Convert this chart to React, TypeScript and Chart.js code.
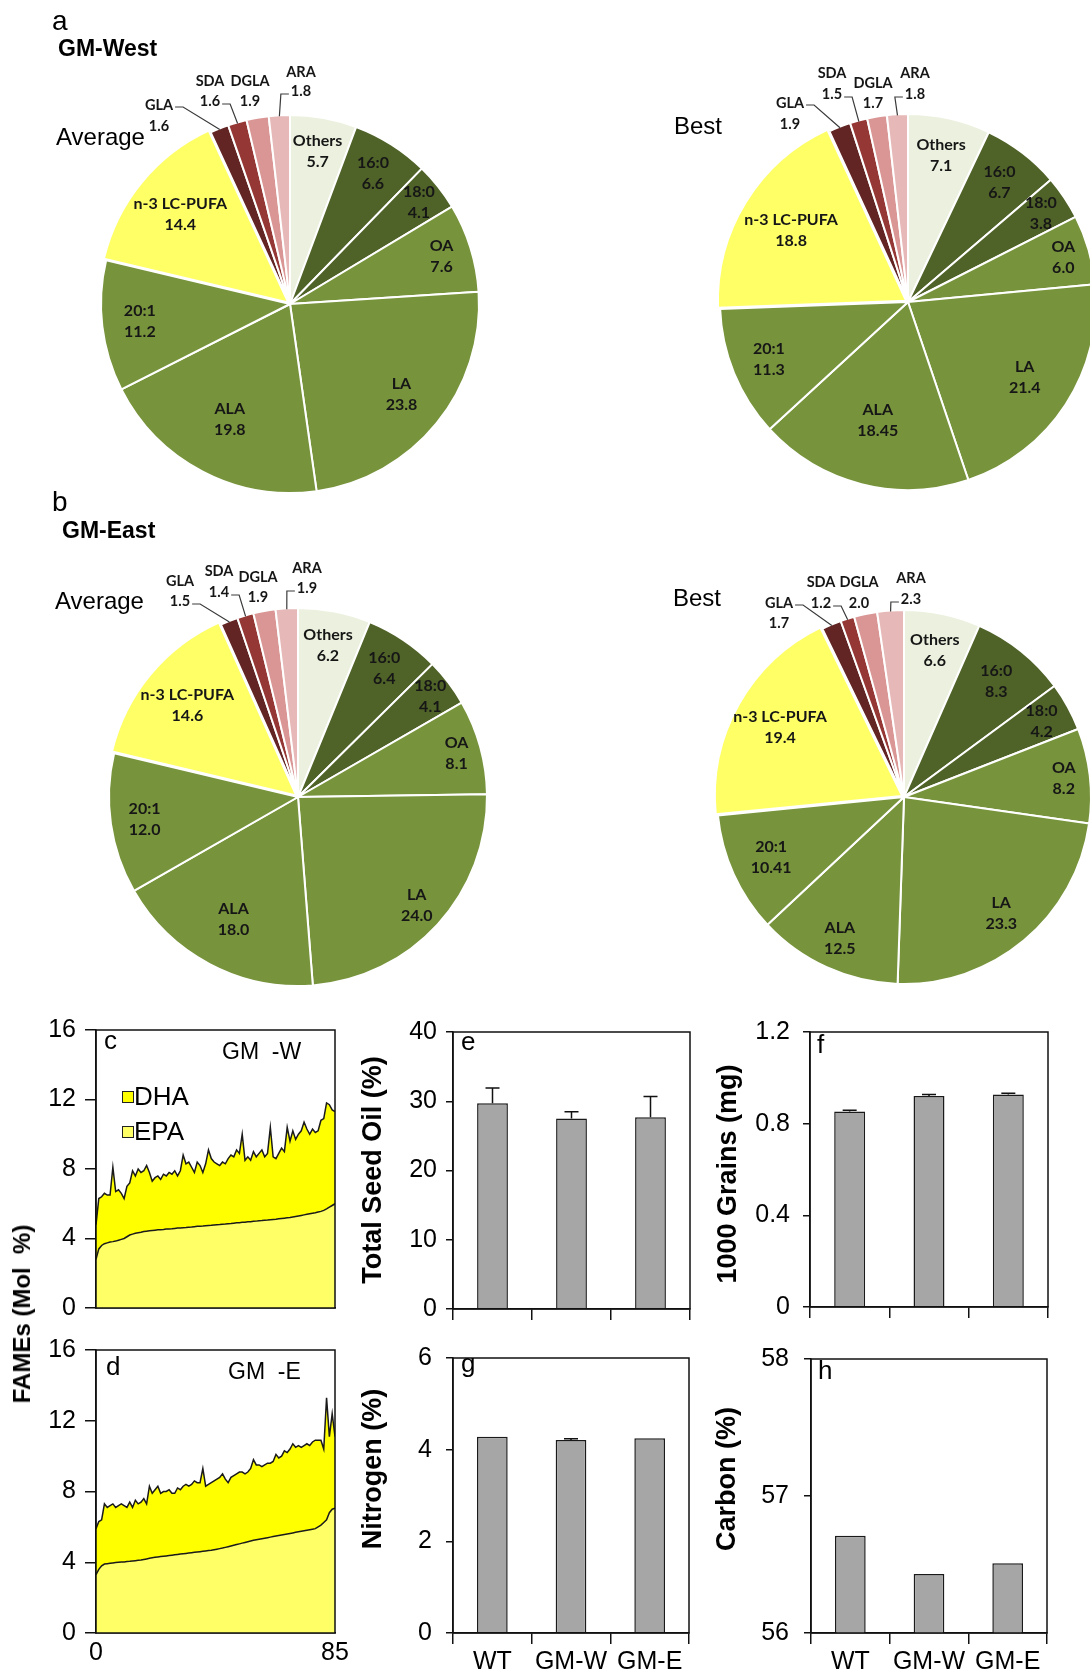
import React, { useEffect, useRef } from "react";
import { Chart, registerables } from "chart.js";

Chart.register(...registerables);

const FONT = "'Liberation Sans', Arial, Helvetica, sans-serif";
const PIE_FONT = "Lato, 'Open Sans', sans-serif";

// ---------------- Data ----------------
const pieCategories = ["Others", "16:0", "18:0", "OA", "LA", "ALA", "20:1", "n-3 LC-PUFA", "GLA", "SDA", "DGLA", "ARA"];
const westAverage = [5.7, 6.6, 4.1, 7.6, 23.8, 19.8, 11.2, 14.4, 1.6, 1.6, 1.9, 1.8];
const westBest = [7.1, 6.7, 3.8, 6.0, 21.4, 18.45, 11.3, 18.8, 1.9, 1.5, 1.7, 1.8];
const eastAverage = [6.2, 6.4, 4.1, 8.1, 24.0, 18.0, 12.0, 14.6, 1.5, 1.4, 1.9, 1.9];
const eastBest = [6.6, 8.3, 4.2, 8.2, 23.3, 12.5, 10.41, 19.4, 1.7, 1.2, 2.0, 2.3];

// Panel c (GM-W): EPA and EPA+DHA (top of stacked area), lines 0..85
const epaW = [
  2.8, 3.4, 3.6, 3.7, 3.75, 3.8, 3.82, 3.85, 3.9, 3.95,
  4.0, 4.1, 4.2, 4.25, 4.3, 4.33, 4.36, 4.4, 4.42, 4.44,
  4.46, 4.48, 4.5, 4.51, 4.52, 4.54, 4.55, 4.56, 4.58, 4.6,
  4.61, 4.62, 4.63, 4.65, 4.66, 4.68, 4.7, 4.71, 4.72, 4.74,
  4.75, 4.76, 4.78, 4.79, 4.8, 4.82, 4.83, 4.85, 4.86, 4.88,
  4.9, 4.91, 4.93, 4.94, 4.96, 4.97, 4.99, 5.0, 5.02, 5.03,
  5.05, 5.06, 5.08, 5.1, 5.11, 5.13, 5.15, 5.17, 5.19, 5.21,
  5.24, 5.27, 5.3, 5.33, 5.36, 5.39, 5.42, 5.45, 5.48, 5.52,
  5.56, 5.62, 5.7, 5.8, 5.9, 6.0,
];
const epaDhaW = [
  4.8, 6.3, 6.4, 6.6, 6.5, 6.5, 8.1, 6.7, 6.8, 6.6,
  6.3, 7.0, 7.2, 7.9, 7.6, 8.0, 7.8, 7.9, 8.2, 7.8,
  7.3, 7.5, 7.6, 7.4, 7.7, 7.6, 7.8, 7.7, 7.9, 7.6,
  7.9, 8.8, 8.3, 8.4, 8.1, 7.8, 8.4, 8.2, 7.8, 8.3,
  9.1, 8.6, 8.4, 8.3, 8.2, 8.4, 8.3, 8.6, 8.8, 8.7,
  9.1, 8.9, 10.0, 8.5, 8.7, 8.5, 9.0, 8.7, 8.9, 9.1,
  8.7, 8.9, 10.4, 8.7, 8.6, 8.9, 9.2, 9.0, 10.4, 9.6,
  10.2, 9.7, 10.0, 10.2, 10.7, 10.3, 10.0, 10.3, 10.1, 10.2,
  10.8, 10.9, 11.8, 11.7, 11.4, 11.3,
];
// Panel d (GM-E)
const epaE = [
  3.3, 3.6, 3.8, 3.9, 3.92, 3.94, 3.96, 3.98, 4.0, 4.01,
  4.02, 4.04, 4.05, 4.07, 4.09, 4.11, 4.13, 4.16, 4.19, 4.22,
  4.25, 4.28, 4.3, 4.32, 4.34, 4.36, 4.38, 4.4, 4.42, 4.44,
  4.46, 4.48, 4.5, 4.52, 4.54, 4.56, 4.58, 4.6, 4.62, 4.64,
  4.66, 4.68, 4.71, 4.74, 4.77, 4.8, 4.84, 4.88, 4.92, 4.96,
  5.0, 5.04, 5.08, 5.12, 5.16, 5.2, 5.24, 5.27, 5.3, 5.33,
  5.36, 5.39, 5.42, 5.45, 5.48, 5.51, 5.54, 5.57, 5.6, 5.63,
  5.66, 5.69, 5.72, 5.75, 5.78, 5.81, 5.84, 5.87, 5.9, 6.0,
  6.1, 6.25, 6.4, 6.8, 7.0, 7.05,
];
const epaDhaE = [
  5.9, 6.3, 6.4, 7.3, 7.1, 7.2, 7.3, 7.1, 7.2, 7.3,
  7.2, 7.1, 7.4, 7.1, 7.5, 7.3, 7.4, 7.6, 7.3, 8.3,
  7.9, 8.1, 8.3, 7.9, 8.0, 8.0, 8.1, 7.9, 7.9, 8.2,
  8.1, 8.3, 8.4, 8.3, 8.4, 8.6, 8.5, 8.5, 9.3, 8.3,
  8.4, 8.5, 8.6, 8.7, 8.8, 9.0, 8.7, 8.5, 8.8, 8.9,
  9.0, 9.1, 9.1, 9.0, 9.1, 9.3, 9.8, 9.5, 9.5, 9.4,
  9.5, 9.6, 9.6, 9.7, 10.1, 9.9, 10.0, 10.3, 10.2, 10.4,
  10.7, 10.5, 10.6, 10.5, 10.6, 10.7, 10.6, 10.8, 10.9, 10.9,
  10.9, 10.4, 13.3, 11.1, 12.4, 11.1,
];
const fameXTicks = [0, 85];
const fameYTicks = [0, 4, 8, 12, 16];

const groups = ["WT", "GM-W", "GM-E"];
const seedOil = [29.7, 27.5, 27.7];
const seedOilErr = [2.2, 1.0, 3.0];
const seedOilTicks = [0, 10, 20, 30, 40];
const grains = [0.853, 0.921, 0.927];
const grainsErr = [0.006, 0.006, 0.006];
const grainsTicks = [0, 0.4, 0.8, 1.2];
const nitrogen = [4.28, 4.21, 4.25];
const nitrogenErr = [0, 0.03, 0];
const nitrogenTicks = [0, 2, 4, 6];
const carbon = [56.71, 56.43, 56.51];
const carbonErr = [0, 0, 0];
const carbonTicks = [56, 57, 58];

// ---------------- Styles ----------------
const pieColors = ["#EBF1DE", "#4F6228", "#4F6228", "#77933C", "#77933C", "#77933C", "#77933C", "#FFFF66", "#632523", "#953735", "#D99694", "#E6B9B8"];

function fmt(v: number) {
  const t = v * 10;
  return Math.abs(t - Math.round(t)) < 1e-6 ? v.toFixed(1) : v.toFixed(2);
}

type Outside = { dx: number; nameDy: number; valueDy: number; line: string | null };
type PieLayout = { cx: number; cy: number; r: number; fracs: number[]; outside: Outside[] };

function makePieLabelPlugin(layout: PieLayout) {
  return {
    id: "pieLabels",
    afterDatasetsDraw(chart: any) {
      const ctx = chart.ctx;
      const meta = chart.getDatasetMeta(0);
      const data = chart.data.datasets[0].data as number[];
      const names = chart.data.labels as string[];
      ctx.save();
      ctx.fillStyle = "#161616";
      ctx.strokeStyle = "#3a3a3a";
      ctx.lineWidth = 1.2;
      ctx.textAlign = "center";
      ctx.textBaseline = "middle";
      meta.data.forEach((arc: any, i: number) => {
        const p = arc.getProps(["x", "y", "startAngle", "endAngle", "outerRadius"], true);
        const mid = (p.startAngle + p.endAngle) / 2;
        const valueText = fmt(data[i]);
        if (i < layout.fracs.length) {
          const d = layout.fracs[i] * p.outerRadius;
          const px = p.x + Math.cos(mid) * d;
          const py = p.y + Math.sin(mid) * d;
          ctx.font = `bold 16px ${PIE_FONT}`;
          ctx.fillText(names[i], px, py - 10.5);
          ctx.fillText(valueText, px, py + 10.5);
        } else {
          const o = layout.outside[i - layout.fracs.length];
          ctx.font = `bold 14.5px ${PIE_FONT}`;
          const lx = p.x + o.dx;
          const ny = p.y + o.nameDy;
          const vy = p.y + o.valueDy;
          ctx.fillText(names[i], lx, ny);
          ctx.fillText(valueText, lx, vy);
          if (o.line) {
            const ex = p.x + Math.cos(mid) * (p.outerRadius - 1);
            const ey = p.y + Math.sin(mid) * (p.outerRadius - 1);
            let sx = 0, sy = 0, dir = 1;
            if (o.line === "nameRight") {
              sx = lx + ctx.measureText(names[i]).width / 2 + 2; sy = ny + 2; dir = 1;
            } else if (o.line === "valueRight") {
              sx = lx + ctx.measureText(valueText).width / 2 + 2; sy = vy + 3; dir = 1;
            } else {
              sx = lx - ctx.measureText(valueText).width / 2 - 2; sy = vy + 3; dir = -1;
            }
            ctx.beginPath();
            ctx.moveTo(sx, sy);
            ctx.lineTo(sx + dir * 8, sy);
            ctx.lineTo(ex, ey);
            ctx.stroke();
          }
        }
      });
      ctx.restore();
    },
  };
}

const PIE_CANVAS = 560;

function PieChart({ values, layout }: { values: number[]; layout: PieLayout }) {
  const ref = useRef<HTMLCanvasElement>(null);
  useEffect(() => {
    const chart = new Chart(ref.current as HTMLCanvasElement, {
      type: "pie",
      data: {
        labels: pieCategories,
        datasets: [
          {
            data: values,
            backgroundColor: pieColors,
            borderColor: "#ffffff",
            borderWidth: 2,
            offset: pieCategories.map((c) => (c === "n-3 LC-PUFA" ? 9 : 0)),
          } as any,
        ],
      },
      options: {
        animation: false,
        responsive: false,
        events: [],
        radius: layout.r,
        layout: { padding: 0 },
        plugins: { legend: { display: false }, tooltip: { enabled: false } },
      } as any,
      plugins: [makePieLabelPlugin(layout)],
    });
    return () => chart.destroy();
  }, []);
  return (
    <canvas
      ref={ref}
      width={PIE_CANVAS}
      height={PIE_CANVAS}
      style={{ position: "absolute", left: layout.cx - PIE_CANVAS / 2, top: layout.cy - PIE_CANVAS / 2, width: PIE_CANVAS, height: PIE_CANVAS }}
    />
  );
}

const framePlugin = {
  id: "frame",
  afterDatasetsDraw(chart: any) {
    const { left, top, right, bottom } = chart.chartArea;
    const ctx = chart.ctx;
    ctx.save();
    ctx.strokeStyle = "#111";
    ctx.lineWidth = 1.5;
    ctx.strokeRect(left, top, right - left, bottom - top);
    ctx.restore();
  },
};

const fameLegendPlugin = {
  id: "fameLegend",
  afterDatasetsDraw(chart: any) {
    const { left, top } = chart.chartArea;
    const ctx = chart.ctx;
    const items = [chart.data.datasets[1], chart.data.datasets[0]];
    ctx.save();
    items.forEach((ds: any, k: number) => {
      const sx = left + 26;
      const sy = top + 61 + k * 35;
      ctx.fillStyle = ds.backgroundColor;
      ctx.fillRect(sx, sy, 11, 11);
      ctx.strokeStyle = "#222";
      ctx.lineWidth = 1;
      ctx.strokeRect(sx + 0.5, sy + 0.5, 11, 11);
      ctx.fillStyle = "#000";
      ctx.font = `26px ${FONT}`;
      ctx.textAlign = "left";
      ctx.textBaseline = "middle";
      ctx.fillText(ds.label, sx + 12, sy + 7);
    });
    ctx.restore();
  },
};

function makeErrorBarPlugin(errors: number[]) {
  return {
    id: "errorBars",
    afterDatasetsDraw(chart: any) {
      const ctx = chart.ctx;
      const meta = chart.getDatasetMeta(0);
      const y = chart.scales.y;
      const vals = chart.data.datasets[0].data as number[];
      ctx.save();
      ctx.strokeStyle = "#111";
      ctx.lineWidth = 1.5;
      meta.data.forEach((bar: any, i: number) => {
        const e = errors[i];
        if (!e) return;
        const yTop = y.getPixelForValue(vals[i] + e);
        ctx.beginPath();
        ctx.moveTo(bar.x, bar.y);
        ctx.lineTo(bar.x, yTop);
        ctx.moveTo(bar.x - 7, yTop);
        ctx.lineTo(bar.x + 7, yTop);
        ctx.stroke();
      });
      ctx.restore();
    },
  };
}

const YW = 70;
const XH = 50;
const PT = 20;
const PR = 20;

type Box = { L: number; R: number; T: number; B: number };

function canvasStyle(b: Box) {
  const left = b.L - YW;
  const top = b.T - PT;
  return { left, top, width: b.R + PR - left, height: b.B + XH - top };
}

const tickFont = { family: FONT, size: 25 };

function FameChart({ epa, total, box, showX, legend }: { epa: number[]; total: number[]; box: Box; showX: boolean; legend: boolean }) {
  const ref = useRef<HTMLCanvasElement>(null);
  const cs = canvasStyle(box);
  useEffect(() => {
    const chart = new Chart(ref.current as HTMLCanvasElement, {
      type: "line",
      data: {
        datasets: [
          {
            label: "EPA",
            data: epa.map((v, i) => ({ x: i, y: v })),
            fill: "origin",
            backgroundColor: "#FFFF66",
            borderColor: "#1a1a1a",
            borderWidth: 1.5,
            pointRadius: 0,
            tension: 0,
          },
          {
            label: "DHA",
            data: total.map((v, i) => ({ x: i, y: v })),
            fill: "-1",
            backgroundColor: "#FFFF00",
            borderColor: "#1a1a1a",
            borderWidth: 1.5,
            pointRadius: 0,
            tension: 0,
          },
        ],
      },
      options: {
        animation: false,
        responsive: false,
        events: [],
        layout: { padding: { left: 0, top: PT, right: PR, bottom: 0 } },
        plugins: { legend: { display: false }, tooltip: { enabled: false } },
        scales: {
          x: {
            type: "linear",
            min: fameXTicks[0],
            max: fameXTicks[fameXTicks.length - 1],
            afterBuildTicks: (s: any) => {
              s.ticks = fameXTicks.map((v) => ({ value: v }));
            },
            afterFit: (s: any) => {
              s.height = XH;
            },
            grid: { display: false, drawTicks: false, tickLength: 0 },
            border: { display: true, color: "#111", width: 1.5 },
            ticks: { display: showX, font: tickFont, color: "#000", padding: 5, maxRotation: 0, autoSkip: false, callback: (v: any) => `${v}` },
          },
          y: {
            min: fameYTicks[0],
            max: fameYTicks[fameYTicks.length - 1],
            afterBuildTicks: (s: any) => {
              s.ticks = fameYTicks.map((v) => ({ value: v }));
            },
            afterFit: (s: any) => {
              s.width = YW;
            },
            grid: { drawOnChartArea: false, tickLength: 11, color: "#111", lineWidth: 1.5 },
            border: { color: "#111", width: 1.5 },
            ticks: { font: tickFont, color: "#000", padding: 9, callback: (v: any) => `${v}` },
          },
        },
      } as any,
      plugins: legend ? [framePlugin, fameLegendPlugin] : [framePlugin],
    });
    return () => chart.destroy();
  }, []);
  return <canvas ref={ref} width={cs.width} height={cs.height} style={{ position: "absolute", ...cs }} />;
}

function BarChart({ values, errors, ticks, box, showX, tickPad }: { values: number[]; errors: number[]; ticks: number[]; box: Box; showX: boolean; tickPad: number }) {
  const ref = useRef<HTMLCanvasElement>(null);
  const cs = canvasStyle(box);
  useEffect(() => {
    const chart = new Chart(ref.current as HTMLCanvasElement, {
      type: "bar",
      data: {
        labels: groups,
        datasets: [
          {
            data: values,
            backgroundColor: "#A6A6A6",
            borderColor: "#1a1a1a",
            borderWidth: 1.5,
            barPercentage: 0.39,
            categoryPercentage: 1,
          },
        ],
      },
      options: {
        animation: false,
        responsive: false,
        events: [],
        layout: { padding: { left: 0, top: PT, right: PR, bottom: 0 } },
        plugins: { legend: { display: false }, tooltip: { enabled: false } },
        scales: {
          x: {
            type: "category",
            offset: true,
            afterFit: (s: any) => {
              s.height = XH;
            },
            grid: { display: true, drawOnChartArea: false, offset: true, tickLength: 11, color: "#111", lineWidth: 1.5 },
            border: { color: "#111", width: 1.5 },
            ticks: { display: showX, font: tickFont, color: "#000", padding: 3, maxRotation: 0, autoSkip: false },
          },
          y: {
            min: ticks[0],
            max: ticks[ticks.length - 1],
            afterBuildTicks: (s: any) => {
              s.ticks = ticks.map((v) => ({ value: v }));
            },
            afterFit: (s: any) => {
              s.width = YW;
            },
            grid: { drawOnChartArea: false, tickLength: 7, color: "#111", lineWidth: 1.5 },
            border: { color: "#111", width: 1.5 },
            ticks: { font: tickFont, color: "#000", padding: tickPad, callback: (v: any) => `${v}` },
          },
        },
      } as any,
      plugins: [framePlugin, makeErrorBarPlugin(errors)],
    });
    return () => chart.destroy();
  }, []);
  return <canvas ref={ref} width={cs.width} height={cs.height} style={{ position: "absolute", ...cs }} />;
}

function Txt({ x, y, fs, bold, children }: { x: number; y: number; fs: number; bold?: boolean; children: React.ReactNode }) {
  return (
    <div style={{ position: "absolute", left: x, top: y, fontSize: fs, lineHeight: 1, fontWeight: bold ? "bold" : "normal", whiteSpace: "pre", color: "#000" }}>
      {children}
    </div>
  );
}

function VTxt({ cx, cy, fs, children }: { cx: number; cy: number; fs: number; children: React.ReactNode }) {
  return (
    <div
      style={{
        position: "absolute",
        left: cx,
        top: cy,
        fontSize: fs,
        lineHeight: 1,
        fontWeight: "bold",
        whiteSpace: "pre",
        color: "#000",
        transform: "translate(-50%, -50%) rotate(-90deg)",
      }}
    >
      {children}
    </div>
  );
}

const pieLayouts: PieLayout[] = [
  {
    cx: 290, cy: 304, r: 189,
    fracs: [0.82, 0.82, 0.87, 0.84, 0.76, 0.69, 0.8, 0.75],
    outside: [
      { dx: -131, nameDy: -199, valueDy: -178, line: "nameRight" },
      { dx: -80, nameDy: -223, valueDy: -203, line: "valueRight" },
      { dx: -40, nameDy: -223, valueDy: -203, line: null },
      { dx: 11, nameDy: -232, valueDy: -213, line: "valueLeft" },
    ],
  },
  {
    cx: 908, cy: 302, r: 188,
    fracs: [0.8, 0.8, 0.85, 0.86, 0.74, 0.65, 0.8, 0.73],
    outside: [
      { dx: -118, nameDy: -199, valueDy: -178, line: "nameRight" },
      { dx: -76, nameDy: -229, valueDy: -208, line: "valueRight" },
      { dx: -35, nameDy: -219, valueDy: -199, line: null },
      { dx: 7, nameDy: -229, valueDy: -208, line: "valueLeft" },
    ],
  },
  {
    cx: 298, cy: 797, r: 189,
    fracs: [0.82, 0.82, 0.88, 0.87, 0.85, 0.73, 0.82, 0.76],
    outside: [
      { dx: -118, nameDy: -216, valueDy: -196, line: "valueRight" },
      { dx: -79, nameDy: -226, valueDy: -205, line: "valueRight" },
      { dx: -40, nameDy: -220, valueDy: -200, line: null },
      { dx: 9, nameDy: -229, valueDy: -209, line: "valueLeft" },
    ],
  },
  {
    cx: 904, cy: 797, r: 187,
    fracs: [0.8, 0.79, 0.84, 0.86, 0.81, 0.83, 0.78, 0.76],
    outside: [
      { dx: -125, nameDy: -194, valueDy: -174, line: "nameRight" },
      { dx: -83, nameDy: -215, valueDy: -194, line: "valueRight" },
      { dx: -45, nameDy: -215, valueDy: -194, line: null },
      { dx: 7, nameDy: -219, valueDy: -198, line: "valueLeft" },
    ],
  },
];

const boxC: Box = { L: 96, R: 335, T: 1026, B: 1308 };
const boxD: Box = { L: 96, R: 335, T: 1346, B: 1633 };
const boxE: Box = { L: 453, R: 690, T: 1028, B: 1309 };
const boxF: Box = { L: 810, R: 1048, T: 1024, B: 1307 };
const boxG: Box = { L: 453, R: 689, T: 1349, B: 1633 };
const boxH: Box = { L: 811, R: 1047, T: 1349, B: 1633 };

export default function App() {
  useEffect(() => {
    document.body.style.margin = "0";
    document.body.style.background = "#fff";
  }, []);
  return (
    <div
      style={{
        position: "absolute",
        left: 0,
        top: 0,
        width: 1090,
        height: 1675,
        overflow: "hidden",
        background: "#fff",
        fontFamily: FONT,
      }}
    >
      <PieChart values={westAverage} layout={pieLayouts[0]} />
      <PieChart values={westBest} layout={pieLayouts[1]} />
      <PieChart values={eastAverage} layout={pieLayouts[2]} />
      <PieChart values={eastBest} layout={pieLayouts[3]} />

      <Txt x={52} y={7} fs={28}>a</Txt>
      <Txt x={58} y={37} fs={23} bold>GM-West</Txt>
      <Txt x={56} y={125} fs={24}>Average</Txt>
      <Txt x={674} y={114} fs={24}>Best</Txt>
      <Txt x={52} y={488} fs={28}>b</Txt>
      <Txt x={62} y={519} fs={23} bold>GM-East</Txt>
      <Txt x={55} y={589} fs={24}>Average</Txt>
      <Txt x={673} y={586} fs={24}>Best</Txt>

      <FameChart epa={epaW} total={epaDhaW} box={boxC} showX={false} legend={true} />
      <FameChart epa={epaE} total={epaDhaE} box={boxD} showX={true} legend={false} />
      <BarChart values={seedOil} errors={seedOilErr} ticks={seedOilTicks} box={boxE} showX={false} tickPad={9} />
      <BarChart values={grains} errors={grainsErr} ticks={grainsTicks} box={boxF} showX={false} tickPad={13} />
      <BarChart values={nitrogen} errors={nitrogenErr} ticks={nitrogenTicks} box={boxG} showX={true} tickPad={14} />
      <BarChart values={carbon} errors={carbonErr} ticks={carbonTicks} box={boxH} showX={true} tickPad={15} />

      <Txt x={104} y={1027} fs={26}>c</Txt>
      <Txt x={222} y={1040} fs={23}>{"GM  -W"}</Txt>
      <Txt x={106} y={1353} fs={26}>d</Txt>
      <Txt x={228} y={1360} fs={23}>{"GM  -E"}</Txt>
      <Txt x={461} y={1028} fs={26}>e</Txt>
      <Txt x={817} y={1031} fs={26}>f</Txt>
      <Txt x={461} y={1350} fs={26}>g</Txt>
      <Txt x={818} y={1357} fs={26}>h</Txt>

      <VTxt cx={22} cy={1314} fs={24}>{"FAMEs (Mol  %)"}</VTxt>
      <VTxt cx={372} cy={1170} fs={27}>Total Seed Oil (%)</VTxt>
      <VTxt cx={727} cy={1174} fs={27}>1000 Grains (mg)</VTxt>
      <VTxt cx={372} cy={1469} fs={27}>Nitrogen (%)</VTxt>
      <VTxt cx={726} cy={1479} fs={27}>Carbon (%)</VTxt>
    </div>
  );
}
